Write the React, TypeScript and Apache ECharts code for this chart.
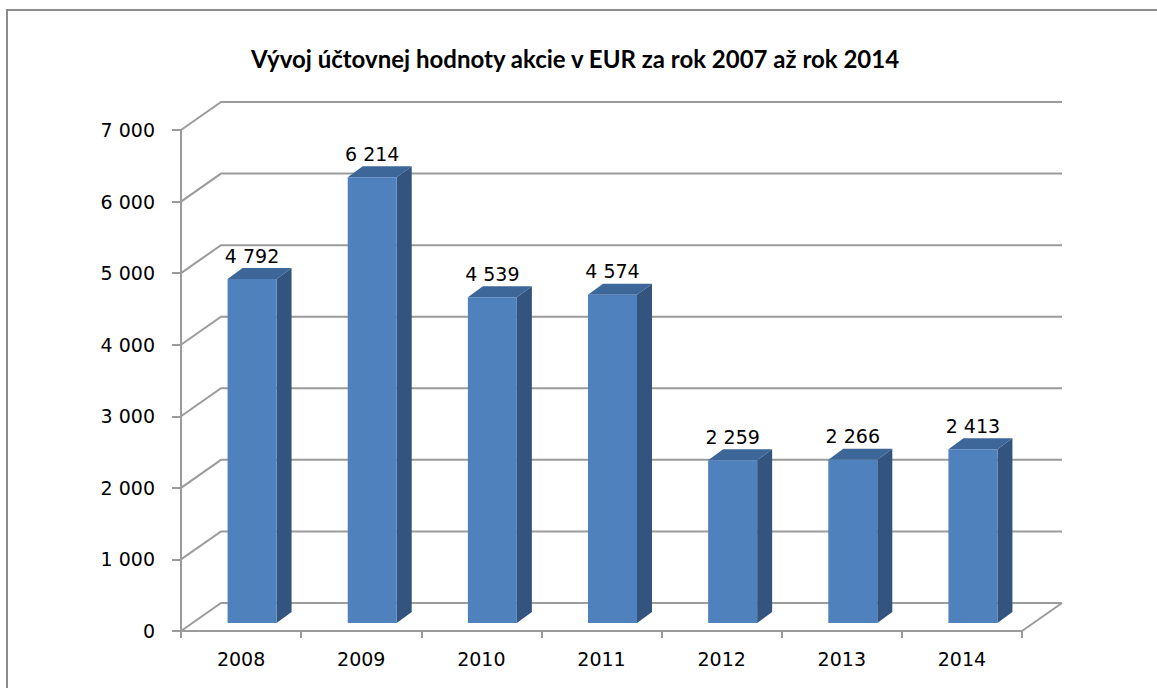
import React, { useEffect, useRef } from "react";
import * as echarts from "echarts";

const TITLE = "Vývoj účtovnej hodnoty akcie v EUR za rok 2007 až rok 2014";
const years = ["2008", "2009", "2010", "2011", "2012", "2013", "2014"];
const values = [4792, 6214, 4539, 4574, 2259, 2266, 2413];
const yTicks = [0, 1000, 2000, 3000, 4000, 5000, 6000, 7000];

const FONT = "DejaVu Sans";
const TFONT = "Lato";
const fmt = (v: number) => {
  const s = String(Math.round(v));
  return s.replace(/\B(?=(\d{3})+(?!\d))/g, " ");
};

export default function App() {
  const ref = useRef<HTMLDivElement>(null);
  useEffect(() => {
    if (!ref.current) return;
    const chart = echarts.init(ref.current, null, { renderer: "svg" });
    const DX = 40, DY = -28;
    const gridColor = "#9b9b9b";
    chart.setOption({
      animation: false,
      backgroundColor: "#fff",
      title: {
        text: TITLE,
        left: 570,
        textAlign: "center",
        top: 41,
        textStyle: { fontFamily: TFONT, fontWeight: "bold", fontSize: 24, color: "#000" },
      },
      graphic: [
        {
          type: "rect",
          shape: { x: 7, y: 10, width: 1200, height: 720 },
          style: { fill: "none", stroke: "#8c8c8c", lineWidth: 2 },
          silent: true,
        },
      ],
      grid: { left: 181, right: 135, top: 130, bottom: 57 },
      xAxis: {
        type: "category",
        data: years,
        axisLine: { show: true, lineStyle: { color: gridColor, width: 2 } },
        axisTick: { show: true, length: 7, lineStyle: { color: gridColor, width: 2 } },
        axisLabel: { margin: 18, fontFamily: FONT, fontSize: 19, color: "#000" },
        splitLine: { show: false },
      },
      yAxis: {
        type: "value",
        min: 0,
        max: 7000,
        interval: 1000,
        axisLine: { show: true, lineStyle: { color: gridColor, width: 2 } },
        axisTick: { show: true, length: 9, lineStyle: { color: gridColor, width: 2 } },
        axisLabel: { margin: 26, fontFamily: FONT, fontSize: 19, color: "#000", formatter: (v: number) => fmt(v) },
        splitLine: { show: false },
      },
      series: [
        {
          type: "custom",
          silent: true,
          z: 1,
          data: yTicks.map((v) => [0, v]),
          renderItem: (params: any, api: any) => {
            const cs = params.coordSys;
            const v = api.value(1);
            const y = api.coord([0, v])[1];
            const x0 = cs.x;
            const x1 = cs.x + cs.width;
            const children: any[] = [
              {
                type: "polyline",
                shape: { points: [[x0, y], [x0 + DX, y + DY], [x1 + DX, y + DY]] },
                style: { stroke: gridColor, lineWidth: 2, fill: "none" },
              },
            ];
            if (v === 0) {
              children.push({
                type: "line",
                shape: { x1: x1, y1: y, x2: x1 + DX, y2: y + DY },
                style: { stroke: gridColor, lineWidth: 2 },
              });
            }
            return { type: "group", children };
          },
        },
        {
          type: "custom",
          z: 3,
          data: values.map((v, i) => [i, v]),
          renderItem: (params: any, api: any) => {
            const i = api.value(0);
            const v = api.value(1);
            const base = api.coord([i, 0]);
            const top = api.coord([i, v]);
            const cx = base[0] + 11;
            const w = 49;
            const sx = 15, sy = -11;
            const xl = cx - w / 2, xr = cx + w / 2;
            const yb = base[1] - 8;
            const yt = top[1] - 9;
            return {
              type: "group",
              children: [
                {
                  type: "polygon",
                  shape: { points: [[xr, yb], [xr + sx, yb + sy], [xr + sx, yt + sy], [xr, yt]] },
                  style: { fill: "#32547e" },
                },
                {
                  type: "polygon",
                  shape: { points: [[xl, yt], [xl + sx, yt + sy], [xr + sx, yt + sy], [xr, yt]] },
                  style: { fill: "#3d6699" },
                },
                {
                  type: "rect",
                  shape: { x: xl, y: yt, width: w, height: yb - yt },
                  style: { fill: "#4f81bd" },
                },
                {
                  type: "text",
                  style: {
                    text: fmt(v),
                    x: cx,
                    y: yt + sy - 3,
                    align: "center",
                    verticalAlign: "bottom",
                    fontFamily: FONT,
                    fontSize: 19,
                    fill: "#000",
                  },
                },
              ],
            };
          },
        },
      ],
    });
    return () => chart.dispose();
  }, []);
  return (
    <div
      ref={ref}
      style={{ position: "fixed", left: 0, top: 0, width: 1157, height: 688, background: "#fff" }}
    />
  );
}
